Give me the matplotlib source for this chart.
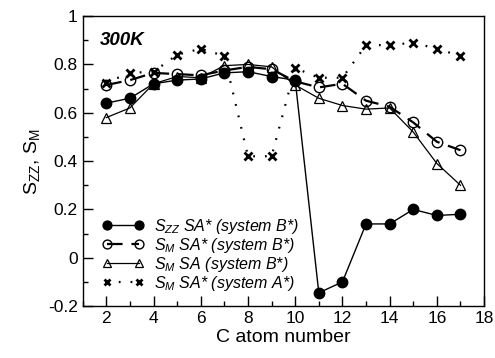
import numpy as np
import matplotlib
matplotlib.use('Agg')
import matplotlib.pyplot as plt

plt.rcParams['font.family'] = 'Liberation Sans'
plt.rcParams['mathtext.fontset'] = 'custom'
plt.rcParams['mathtext.rm'] = 'Liberation Sans'
plt.rcParams['mathtext.it'] = 'Liberation Sans:italic'

# C atom positions
carbon = np.arange(2, 18)

# S_ZZ SA* (system B*)
szz_sa_star_b = [0.64, 0.66, 0.72, 0.735, 0.74, 0.765, 0.77, 0.75, 0.735,
                 -0.145, -0.10, 0.14, 0.14, 0.20, 0.175, 0.18]
# S_M SA* (system B*)
sm_sa_star_b = [0.715, 0.735, 0.765, 0.76, 0.755, 0.775, 0.79, 0.78, 0.73,
                0.705, 0.72, 0.65, 0.625, 0.56, 0.48, 0.445]
# S_M SA (system B*)
sm_sa_b = [0.58, 0.62, 0.72, 0.75, 0.745, 0.795, 0.80, 0.79, 0.715,
           0.66, 0.63, 0.615, 0.62, 0.52, 0.39, 0.30]
# S_M SA* (system A*)
sm_sa_star_a = [0.725, 0.765, 0.77, 0.84, 0.865, 0.835, 0.42, 0.42, 0.785,
                0.745, 0.745, 0.88, 0.88, 0.89, 0.865, 0.835]

labels = [r'$S_{ZZ}$ SA* (system B*)',
          r'$S_{M}$ SA* (system B*)',
          r'$S_{M}$ SA (system B*)',
          r'$S_{M}$ SA* (system A*)']

fig = plt.figure(figsize=(4.95, 3.58), dpi=100)
ax = fig.add_axes([0.167, 0.145, 0.811, 0.81])

ax.plot(carbon, szz_sa_star_b, '-', color='black', lw=1.0,
        marker='o', ms=7.5, mfc='black', mec='black', label=labels[0])
ax.plot(carbon, sm_sa_star_b, color='black', lw=1.6, dashes=(7, 4),
        marker='o', ms=7.5, mfc='none', mec='black', mew=1.0, label=labels[1])
ax.plot(carbon, sm_sa_b, '-', color='black', lw=0.9,
        marker='^', ms=7.5, mfc='none', mec='black', mew=0.9, label=labels[2])
ax.plot(carbon, sm_sa_star_a, color='black', lw=1.6, dashes=(0.8, 4.5),
        marker='x', ms=5.5, mec='black', mew=2.0, label=labels[3])

ax.set_xlim(1, 18)
ax.set_ylim(-0.2, 1.0)
ax.set_xticks(np.arange(2, 19, 2))
ax.set_xticks(np.arange(1, 18, 1), minor=True)
ax.set_yticks(np.arange(-0.2, 1.01, 0.2))
ax.set_yticks(np.arange(-0.1, 1.0, 0.2), minor=True)
ax.set_yticklabels(['-0.2', '0', '0.2', '0.4', '0.6', '0.8', '1'])

ax.tick_params(which='both', direction='in', top=False, right=False, labelsize=12.5)
ax.tick_params(which='major', length=7, width=1)
ax.tick_params(which='minor', length=3.5, width=1)
for s in ax.spines.values():
    s.set_linewidth(1.0)

ax.set_xlabel('C atom number', fontsize=14, labelpad=2)
ax.set_ylabel(r'$\mathregular{S_{ZZ},\,S_{M}}$', fontsize=14, labelpad=4)

ax.text(0.043, 0.915, '300K', transform=ax.transAxes, fontsize=13.5,
        fontweight='bold', fontstyle='italic', va='center', ha='left')

leg = ax.legend(loc='lower left', bbox_to_anchor=(0.01, -0.01), frameon=False,
                numpoints=2, handlelength=2.6, handletextpad=0.6,
                labelspacing=0.0, borderaxespad=0.6, markerscale=0.85,
                prop={'style': 'italic', 'size': 11.5})

fig.savefig('out.png', dpi=100)
